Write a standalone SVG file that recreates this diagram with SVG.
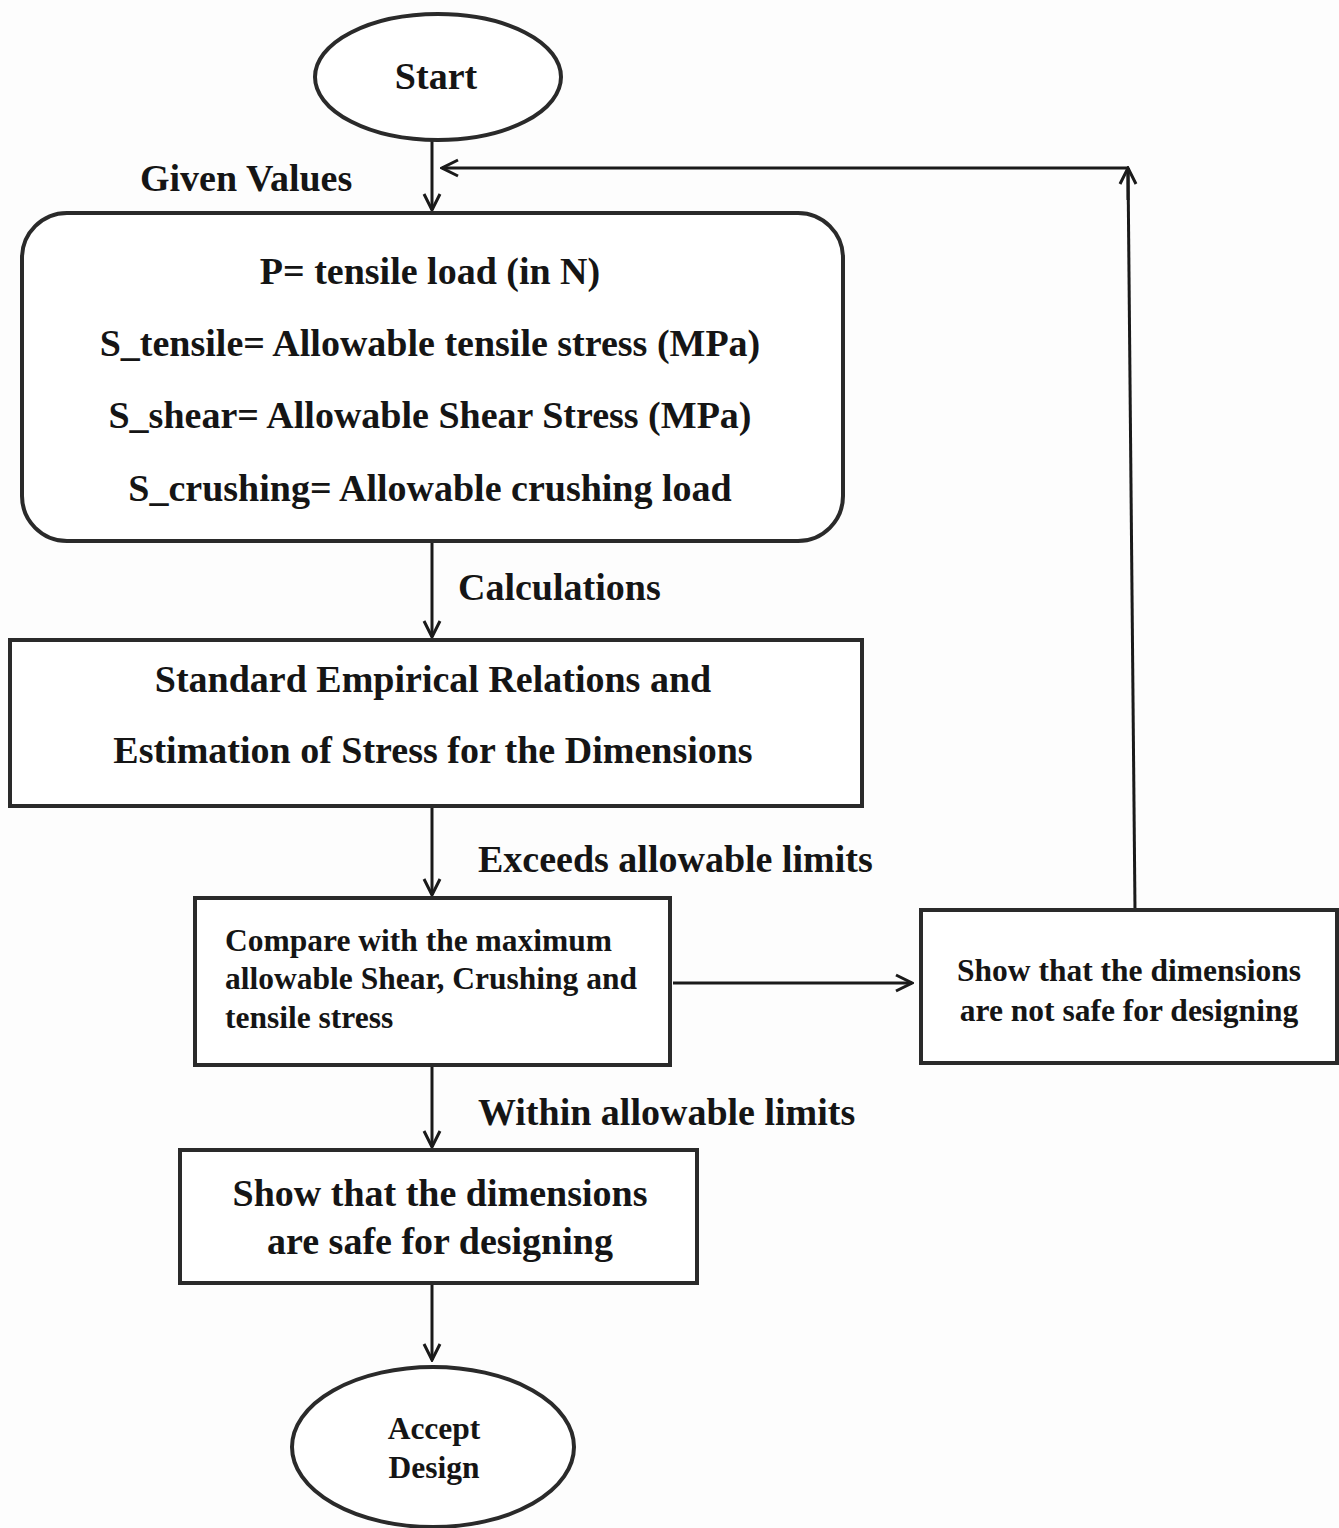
<svg xmlns="http://www.w3.org/2000/svg" width="1339" height="1528" viewBox="0 0 1339 1528">
<style>
.s{fill:#fff;stroke:#2a2a2a;stroke-width:4}
.c{fill:none;stroke:#1a1a1a;stroke-width:3}
text{font-family:"Liberation Serif","Times New Roman",serif;font-weight:bold;fill:#151515}
.m{text-anchor:middle}
.b{font-size:38px}
.sm{font-size:31.5px}
</style>
<defs>
<marker id="a" viewBox="0 0 20 20" refX="18" refY="10" markerWidth="20" markerHeight="20" markerUnits="userSpaceOnUse" orient="auto">
<path d="M2,2 L18,10 L2,18" fill="none" stroke="#1a1a1a" stroke-width="3"/>
</marker>
</defs>
<rect width="1339" height="1528" fill="#fdfdfd"/>
<g id="connectors">
<line class="c" x1="432" y1="140" x2="432" y2="210" marker-end="url(#a)"/>
<line class="c" x1="432" y1="543" x2="432" y2="637" marker-end="url(#a)"/>
<line class="c" x1="432" y1="808" x2="432" y2="895" marker-end="url(#a)"/>
<line class="c" x1="673" y1="983" x2="912" y2="983" marker-end="url(#a)"/>
<polyline class="c" points="1135,910 1128,168"/>
<line class="c" x1="1128" y1="200" x2="1128" y2="168" marker-end="url(#a)"/>
<line class="c" x1="1128" y1="168" x2="442" y2="168" marker-end="url(#a)"/>
<line class="c" x1="432" y1="1067" x2="432" y2="1147" marker-end="url(#a)"/>
<line class="c" x1="432" y1="1285" x2="432" y2="1360" marker-end="url(#a)"/>
<text class="b" x="140" y="191">Given Values</text>
<text class="b" x="458" y="600">Calculations</text>
<text class="b" x="478" y="872">Exceeds allowable limits</text>
<text class="b" x="478" y="1125">Within allowable limits</text>
</g>
<g id="start">
<ellipse class="s" cx="438" cy="77" rx="123" ry="63"/>
<text class="b m" x="436" y="89">Start</text>
</g>
<g id="given">
<rect class="s" x="22" y="213" width="821" height="328" rx="45"/>
<text class="b m" x="430" y="284">P= tensile load (in N)</text>
<text class="b m" x="430" y="356">S_tensile= Allowable tensile stress (MPa)</text>
<text class="b m" x="430" y="428">S_shear= Allowable Shear Stress (MPa)</text>
<text class="b m" x="430" y="501">S_crushing= Allowable crushing load</text>
</g>
<g id="calc">
<rect class="s" x="10" y="640" width="852" height="166"/>
<text class="b m" x="433" y="692">Standard Empirical Relations and</text>
<text class="b m" x="433" y="763">Estimation of Stress for the Dimensions</text>
</g>
<g id="compare">
<rect class="s" x="195" y="898" width="475" height="167"/>
<text class="sm" x="225" y="951">Compare with the maximum</text>
<text class="sm" x="225" y="989">allowable Shear, Crushing and</text>
<text class="sm" x="225" y="1028">tensile stress</text>
</g>
<g id="notsafe">
<rect class="s" x="921" y="910" width="416" height="153"/>
<text class="sm m" x="1129" y="981">Show that the dimensions</text>
<text class="sm m" x="1129" y="1021">are not safe for designing</text>
</g>
<g id="safe">
<rect class="s" x="180" y="1150" width="517" height="133"/>
<text class="b m" x="440" y="1206">Show that the dimensions</text>
<text class="b m" x="440" y="1254">are safe for designing</text>
</g>
<g id="accept">
<ellipse class="s" cx="433" cy="1447" rx="141" ry="80"/>
<text class="sm m" x="434" y="1439">Accept</text>
<text class="sm m" x="434" y="1478">Design</text>
</g>
</svg>
